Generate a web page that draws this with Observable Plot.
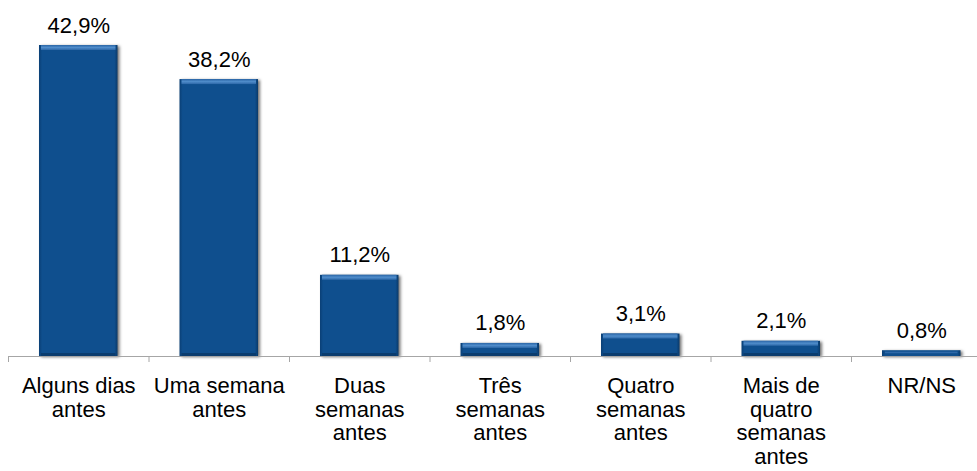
<!DOCTYPE html>
<html>
<head>
<meta charset="utf-8">
<script src="https://cdn.jsdelivr.net/npm/d3@7"></script>
<script src="https://cdn.jsdelivr.net/npm/@observablehq/plot@0.6"></script>
<style>
  html, body { margin: 0; padding: 0; background: #fff; }
  svg { font-family: "Liberation Sans", Arial, sans-serif; }
  g.bars rect { filter: drop-shadow(2px 1px 1.5px rgba(0,0,0,0.55)); }
</style>
</head>
<body>
<div id="chart"></div>
<script>
const categories = [
  "Alguns dias\nantes",
  "Uma semana\nantes",
  "Duas\nsemanas\nantes",
  "Três\nsemanas\nantes",
  "Quatro\nsemanas\nantes",
  "Mais de\nquatro\nsemanas\nantes",
  "NR/NS"
];
const values = [42.9, 38.2, 11.2, 1.8, 3.1, 2.1, 0.8];
const valueLabels = ["42,9%", "38,2%", "11,2%", "1,8%", "3,1%", "2,1%", "0,8%"];

try {
const data = categories.map((c, i) => ({i, lo: i, hi: i + 1, mid: i + 0.5, cat: c, value: values[i], label: valueLabels[i]}));
const bounds = d3.range(categories.length + 1);

const chart = Plot.plot({
  width: 977,
  height: 471,
  marginLeft: 8,
  marginRight: 0,
  marginTop: 0,
  marginBottom: 0,
  x: {domain: [0, 7], range: [8, 991.5], axis: null},
  y: {domain: [0, 42.9], range: [356, 45], axis: null},
  style: {fontFamily: "'Liberation Sans', Arial, sans-serif", background: "#fff"},
  marks: [
    Plot.rect(data, {
      x1: "lo", x2: "hi", y1: 0, y2: "value",
      insetLeft: 31, insetRight: 31,
      fill: "url(#hgrad)", className: "bars"
    }),
    // top bevel highlight
    Plot.rect(data.filter(d => d.value > 1.5), {
      x1: "lo", x2: "hi", y1: "value", y2: "value",
      insetLeft: 33, insetRight: 33, insetBottom: -5,
      fill: "url(#vgrad)"
    }),
    Plot.rect(data.filter(d => d.value <= 1.5), {
      x1: "lo", x2: "hi", y1: "value", y2: "value",
      insetLeft: 34, insetRight: 34, insetTop: 1.5, insetBottom: -3,
      fill: "#2d68a8"
    }),
    // bottom bevel shade
    Plot.rect(data.filter(d => d.value > 1.5), {
      x1: "lo", x2: "hi", y1: 0, y2: 0,
      insetLeft: 33, insetRight: 33, insetTop: -3,
      fill: "#0a3c6e"
    }),
    Plot.ruleY([0], {stroke: "#a6a6a6", strokeWidth: 1}),
    Plot.ruleX(bounds, {x: d => d, y1: 0, y2: 0, insetBottom: -6, stroke: "#a6a6a6"}),
    Plot.text(data, {
      x: "mid", y: "value", text: "label",
      dy: -20, fontSize: 22, fill: "#000", lineAnchor: "middle"
    }),
    Plot.text(data, {
      x: "mid", y: 0, text: "cat",
      dy: 19, fontSize: 22, fill: "#000", lineAnchor: "top", lineHeight: 1.09
    })
  ]
});
const ns = "http://www.w3.org/2000/svg";
const defs = document.createElementNS(ns, "defs");
defs.innerHTML = `
  <linearGradient id="hgrad" x1="0" x2="1" y1="0" y2="0">
    <stop offset="0" stop-color="#0a3f75"/>
    <stop offset="0.04" stop-color="#0f4f8e"/>
    <stop offset="0.96" stop-color="#0f4f8e"/>
    <stop offset="1" stop-color="#0a3a6a"/>
  </linearGradient>
  <linearGradient id="vgrad" x1="0" x2="0" y1="0" y2="1">
    <stop offset="0" stop-color="#2a65a6"/>
    <stop offset="0.5" stop-color="#4f8cca"/>
    <stop offset="1" stop-color="#2d68a8"/>
  </linearGradient>`;
chart.insertBefore(defs, chart.firstChild);
document.getElementById("chart").appendChild(chart);
} catch (e) {
  document.body.insertAdjacentHTML("beforeend", "<pre>" + e.stack + "</pre>");
}
</script>
</body>
</html>
